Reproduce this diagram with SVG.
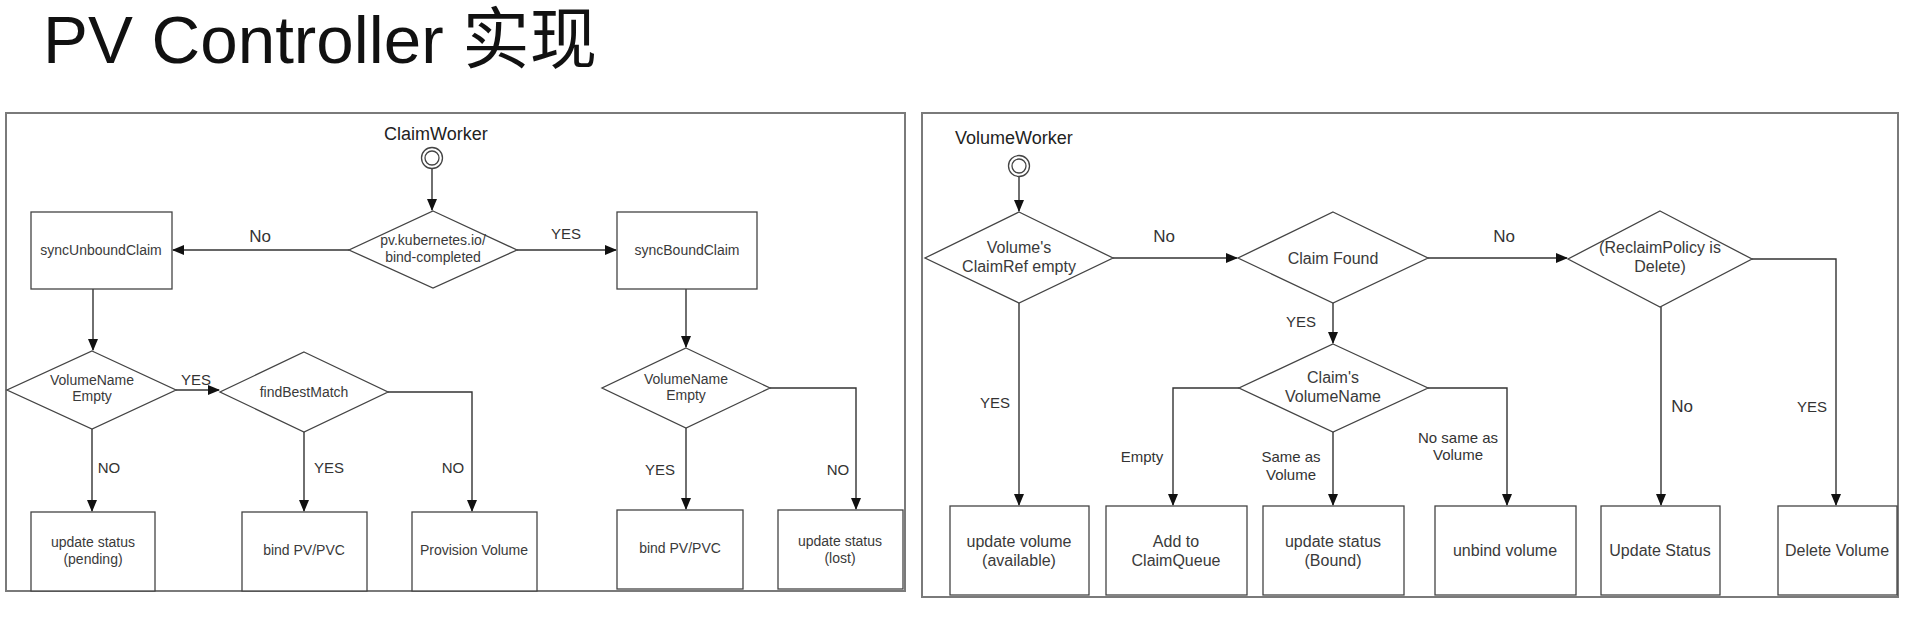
<svg xmlns="http://www.w3.org/2000/svg" width="1924" height="622" viewBox="0 0 1924 622">
<style>
text{font-family:"Liberation Sans","Noto Sans CJK SC",sans-serif;}
.frame{fill:none;stroke:#7a7a7a;stroke-width:2;}
.box{fill:#fff;stroke:#444;stroke-width:1.3;}
.dia{fill:#fff;stroke:#444;stroke-width:1.3;}
.nt{font-size:14px;fill:#3a3a3a;text-anchor:middle;}
.nt2{font-size:16px;fill:#3a3a3a;text-anchor:middle;}
.lb{font-size:15px;fill:#333;text-anchor:middle;}
.lb2{font-size:17px;fill:#333;text-anchor:middle;}
.ttl{font-size:18px;fill:#222;}
.c{fill:none;stroke:#333;stroke-width:1.4;}
.st{fill:#fff;stroke:#444;stroke-width:1.3;}
</style>
<defs>
<marker id="ah" markerUnits="userSpaceOnUse" markerWidth="12" markerHeight="10" refX="11" refY="5" orient="auto">
<path d="M0,0 L12,5 L0,10 Z" fill="#111"/>
</marker>
</defs>
<rect width="1924" height="622" fill="#fff"/>
<text x="43" y="63" font-size="67" fill="#111" textLength="554" lengthAdjust="spacingAndGlyphs">PV Controller 实现</text>

<rect class="frame" x="6" y="113" width="899" height="478"/>
<rect class="frame" x="922" y="113" width="976" height="484"/>

<g id="connectors">
<path class="c" d="M432,169 V210" marker-end="url(#ah)"/>
<path class="c" d="M349,250 H173" marker-end="url(#ah)"/>
<path class="c" d="M517,250 H616" marker-end="url(#ah)"/>
<path class="c" d="M93,289 V350" marker-end="url(#ah)"/>
<path class="c" d="M686,289 V347" marker-end="url(#ah)"/>
<path class="c" d="M176,390 H219" marker-end="url(#ah)"/>
<path class="c" d="M92,429 V511" marker-end="url(#ah)"/>
<path class="c" d="M304,432 V511" marker-end="url(#ah)"/>
<path class="c" d="M388,392 H472 V511" marker-end="url(#ah)"/>
<path class="c" d="M686,428 V509" marker-end="url(#ah)"/>
<path class="c" d="M770,388 H856 V509" marker-end="url(#ah)"/>

<path class="c" d="M1019,177 V211" marker-end="url(#ah)"/>
<path class="c" d="M1113,258 H1237" marker-end="url(#ah)"/>
<path class="c" d="M1428,258 H1567" marker-end="url(#ah)"/>
<path class="c" d="M1333,303 V343" marker-end="url(#ah)"/>
<path class="c" d="M1019,303 V505" marker-end="url(#ah)"/>
<path class="c" d="M1239,388 H1173 V505" marker-end="url(#ah)"/>
<path class="c" d="M1333,432 V505" marker-end="url(#ah)"/>
<path class="c" d="M1428,388 H1507 V505" marker-end="url(#ah)"/>
<path class="c" d="M1661,307 V505" marker-end="url(#ah)"/>
<path class="c" d="M1752,259 H1836 V505" marker-end="url(#ah)"/>

<text class="lb2" x="260" y="242">No</text>
<text class="lb" x="566" y="239">YES</text>
<text class="lb" x="196" y="385">YES</text>
<text class="lb" x="109" y="473">NO</text>
<text class="lb" x="329" y="473">YES</text>
<text class="lb" x="453" y="473">NO</text>
<text class="lb" x="660" y="475">YES</text>
<text class="lb" x="838" y="475">NO</text>

<text class="lb2" x="1164" y="242">No</text>
<text class="lb2" x="1504" y="242">No</text>
<text class="lb" x="1301" y="327">YES</text>
<text class="lb" x="995" y="408">YES</text>
<text class="lb" x="1142" y="462">Empty</text>
<text class="lb" x="1291" y="462">Same as</text>
<text class="lb" x="1291" y="480">Volume</text>
<text class="lb" x="1458" y="443">No same as</text>
<text class="lb" x="1458" y="460">Volume</text>
<text class="lb2" x="1682" y="412">No</text>
<text class="lb" x="1812" y="412">YES</text>
</g>

<g id="claimWorker">
<text class="ttl" x="384" y="140">ClaimWorker</text>
<circle class="st" cx="432" cy="158" r="10.5"/>
<circle class="st" cx="432" cy="158" r="7"/>
</g>
<g id="bindCompleted">
<polygon class="dia" points="433,211 517,250 433,288 349,250"/>
<text class="nt" x="433" y="245">pv.kubernetes.io/</text>
<text class="nt" x="433" y="262">bind-completed</text>
</g>
<g id="syncUnboundClaim">
<rect class="box" x="31" y="212" width="141" height="77"/>
<text class="nt" x="101" y="255">syncUnboundClaim</text>
</g>
<g id="syncBoundClaim">
<rect class="box" x="617" y="212" width="140" height="77"/>
<text class="nt" x="687" y="255">syncBoundClaim</text>
</g>
<g id="volumeNameEmpty1">
<polygon class="dia" points="92,351 176,390 92,429 7,390"/>
<text class="nt" x="92" y="385">VolumeName</text>
<text class="nt" x="92" y="401">Empty</text>
</g>
<g id="findBestMatch">
<polygon class="dia" points="304,352 388,392 304,432 220,392"/>
<text class="nt" x="304" y="397">findBestMatch</text>
</g>
<g id="volumeNameEmpty2">
<polygon class="dia" points="686,348 770,388 686,428 602,388"/>
<text class="nt" x="686" y="384">VolumeName</text>
<text class="nt" x="686" y="400">Empty</text>
</g>
<g id="updatePending">
<rect class="box" x="31" y="512" width="124" height="79"/>
<text class="nt" x="93" y="547">update status</text>
<text class="nt" x="93" y="564">(pending)</text>
</g>
<g id="bindPVPVC1">
<rect class="box" x="242" y="512" width="125" height="79"/>
<text class="nt" x="304" y="555">bind PV/PVC</text>
</g>
<g id="provisionVolume">
<rect class="box" x="412" y="512" width="125" height="79"/>
<text class="nt" x="474" y="555">Provision Volume</text>
</g>
<g id="bindPVPVC2">
<rect class="box" x="617" y="510" width="126" height="79"/>
<text class="nt" x="680" y="553">bind PV/PVC</text>
</g>
<g id="updateLost">
<rect class="box" x="778" y="510" width="125" height="79"/>
<text class="nt" x="840" y="546">update status</text>
<text class="nt" x="840" y="563">(lost)</text>
</g>

<g id="volumeWorker">
<text class="ttl" x="955" y="144" font-size="19">VolumeWorker</text>
<circle class="st" cx="1019" cy="166" r="10.5"/>
<circle class="st" cx="1019" cy="166" r="7"/>
</g>
<g id="claimRefEmpty">
<polygon class="dia" points="1019,212 1113,258 1019,303 925,258"/>
<text class="nt2" x="1019" y="253">Volume's</text>
<text class="nt2" x="1019" y="272">ClaimRef empty</text>
</g>
<g id="claimFound">
<polygon class="dia" points="1333,212 1428,258 1333,303 1238,258"/>
<text class="nt2" x="1333" y="264">Claim Found</text>
</g>
<g id="reclaimPolicy">
<polygon class="dia" points="1660,211 1752,259 1660,307 1568,259"/>
<text class="nt2" x="1660" y="253">(ReclaimPolicy is</text>
<text class="nt2" x="1660" y="272">Delete)</text>
</g>
<g id="claimVolumeName">
<polygon class="dia" points="1333,344 1428,388 1333,432 1239,388"/>
<text class="nt2" x="1333" y="383">Claim's</text>
<text class="nt2" x="1333" y="402">VolumeName</text>
</g>
<g id="updateAvailable">
<rect class="box" x="950" y="506" width="139" height="89"/>
<text class="nt2" x="1019" y="547">update volume</text>
<text class="nt2" x="1019" y="566">(available)</text>
</g>
<g id="addClaimQueue">
<rect class="box" x="1106" y="506" width="141" height="89"/>
<text class="nt2" x="1176" y="547">Add to</text>
<text class="nt2" x="1176" y="566">ClaimQueue</text>
</g>
<g id="updateBound">
<rect class="box" x="1263" y="506" width="141" height="89"/>
<text class="nt2" x="1333" y="547">update status</text>
<text class="nt2" x="1333" y="566">(Bound)</text>
</g>
<g id="unbindVolume">
<rect class="box" x="1435" y="506" width="141" height="89"/>
<text class="nt2" x="1505" y="556">unbind volume</text>
</g>
<g id="updateStatus">
<rect class="box" x="1601" y="506" width="119" height="89"/>
<text class="nt2" x="1660" y="556">Update Status</text>
</g>
<g id="deleteVolume">
<rect class="box" x="1778" y="506" width="119" height="89"/>
<text class="nt2" x="1837" y="556">Delete Volume</text>
</g>
</svg>
